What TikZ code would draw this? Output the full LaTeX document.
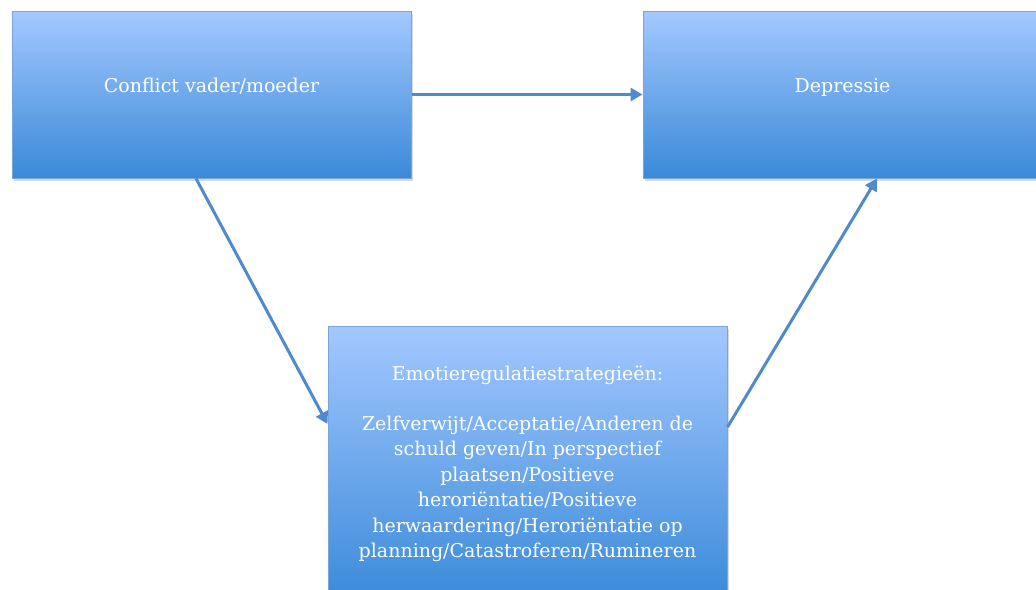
\documentclass[tikz,border=0pt]{standalone}
\usepackage{fontspec}
\setmainfont{DejaVu Serif}
\usetikzlibrary{arrows.meta,shadows}
\definecolor{boxtop}{RGB}{163,200,255}
\definecolor{boxbottom}{RGB}{58,138,216}
\definecolor{boxline}{RGB}{120,165,222}
\definecolor{linkblue}{RGB}{78,138,204}
\begin{document}
\begin{tikzpicture}[x=1pt,y=-1pt,
 stage/.style={rectangle,draw=boxline,line width=1pt,top color=boxtop,bottom color=boxbottom,
  minimum width=399pt,inner sep=0pt,text=white,align=center,font=\fontsize{19}{25.5}\selectfont,
  drop shadow={opacity=0.3,shadow xshift=1.5pt,shadow yshift=-2.5pt}},
 link/.style={draw=linkblue,line width=3pt,-{Triangle[length=12pt,width=13pt]}}]
 \useasboundingbox (0,0) rectangle (1036,589);
 \clip (0,0) rectangle (1036,589);
 \node[stage,minimum height=167pt] (conflict) at (211.5,94.5) {\raisebox{18pt}{Conflict vader/moeder}};
 \node[stage,minimum height=167pt] (depressie) at (842.5,94.5) {\raisebox{18pt}{Depressie}};
 \node[stage,minimum height=276pt] (emotie) at (527.5,464) {Emotieregulatiestrategieën:\\[24pt]
  Zelfverwijt/Acceptatie/Anderen de\\ schuld geven/In perspectief\\ plaatsen/Positieve\\
  heroriëntatie/Positieve\\ herwaardering/Heroriëntatie op\\ planning/Catastroferen/Rumineren};
 \draw[link] (conflict) -- (depressie);
 \draw[link] ([xshift=-15.5pt]conflict.south) -- ([yshift=40pt]emotie.west);
 \draw[link] ([yshift=37pt]emotie.east) -- ([xshift=34.5pt]depressie.south);
\end{tikzpicture}
\end{document}
